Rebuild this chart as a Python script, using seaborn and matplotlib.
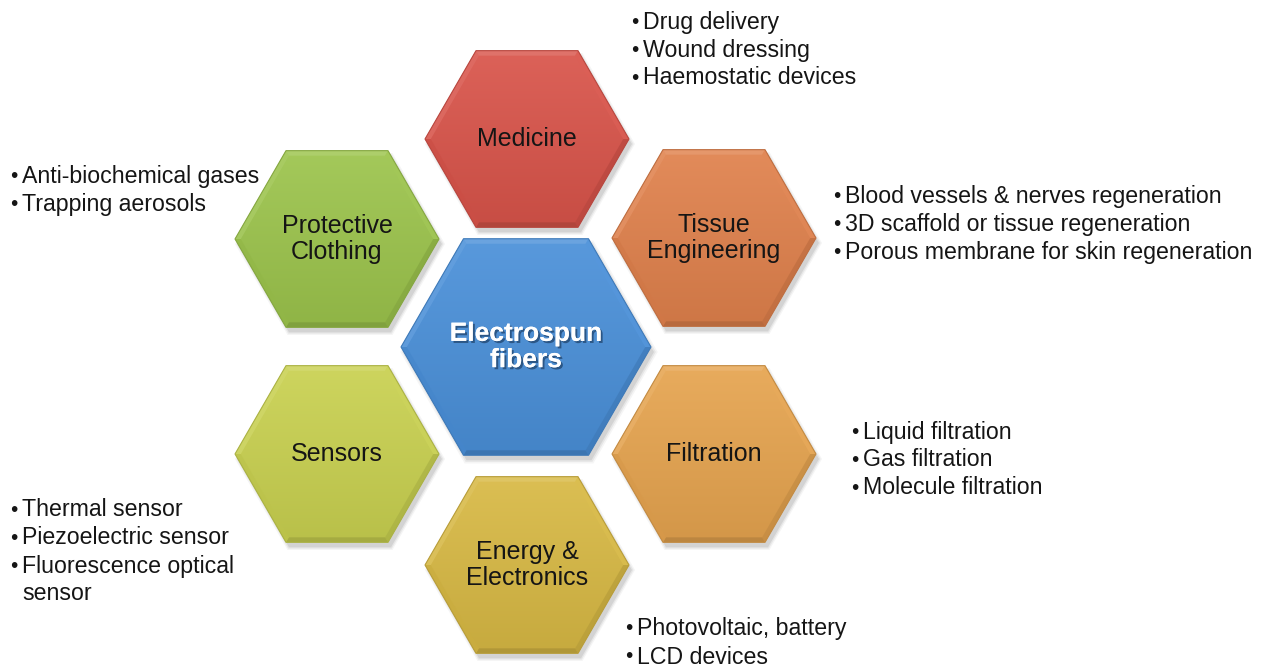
import numpy as np
import matplotlib
matplotlib.use("Agg")
import matplotlib.pyplot as plt
import matplotlib.patheffects as pe
from matplotlib.patches import Polygon
import seaborn as sns

# ---------- data ----------
hub_label = "Electrospun\nfibers"
areas = ["Medicine", "Tissue\nEngineering", "Filtration",
         "Energy &\nElectronics", "Sensors", "Protective\nClothing"]
area_colors = ["#d9544a", "#e0814c", "#e6a44f", "#d8b944", "#c9d150", "#9cc44c"]
hub_color = "#4a90d9"

medicine_items = ["Drug delivery", "Wound dressing", "Haemostatic devices"]
tissue_items = ["Blood vessels & nerves regeneration",
                "3D scaffold or tissue regeneration",
                "Porous membrane for skin regeneration"]
filtration_items = ["Liquid filtration", "Gas filtration", "Molecule filtration"]
energy_items = ["Photovoltaic, battery", "LCD devices"]
sensor_items = ["Thermal sensor", "Piezoelectric sensor",
                "Fluorescence optical\nsensor"]
clothing_items = ["Anti-biochemical gases", "Trapping aerosols"]

# ---------- layout (pixels) ----------
W, H = 1272, 669
hub_xy, hub_r = (526, 347), 125
area_xy = [(527, 139), (714, 238), (714, 454), (527, 565), (337, 454), (337, 239)]
area_r = 102
# bullet blocks: (items, bullet x, first line y)
blocks = [(medicine_items, 631, 22), (tissue_items, 833, 196),
          (filtration_items, 851, 432), (energy_items, 625, 629),
          (sensor_items, 10, 510), (clothing_items, 10, 177)]
line_h = 28

sns.set_theme(style="white")
plt.rcParams["font.family"] = ["Liberation Sans", "DejaVu Sans"]

fig = plt.figure(figsize=(W / 100, H / 100), dpi=100)
ax = fig.add_axes([0, 0, 1, 1])
ax.set_xlim(0, W)
ax.set_ylim(H, 0)
ax.axis("off")


def shade(color, f):
    c = np.array(matplotlib.colors.to_rgb(color))
    if f >= 0:
        return tuple(c + (1 - c) * f)
    return tuple(c * (1 + f))


def hexagon(cx, cy, r, color, z):
    ang = np.deg2rad(np.arange(0, 360, 60))
    outer = np.c_[cx + r * np.cos(ang), cy + r * np.sin(ang)]
    # soft shadow
    for k, a in [(1.03, 0.04), (1.015, 0.06), (1.0, 0.08)]:
        sh = np.c_[cx + 3 + r * k * np.cos(ang), cy + 5 + r * k * np.sin(ang)]
        ax.add_patch(Polygon(sh, closed=True, fc="black", ec="none", alpha=a, zorder=z))
    # gradient body
    grad = np.linspace(0, 1, 200)[:, None]
    top, bot = np.array(shade(color, 0.08)), np.array(shade(color, -0.08))
    img = top[None, None, :] * (1 - grad[..., None]) + bot[None, None, :] * grad[..., None]
    h = r * np.sqrt(3) / 2
    im = ax.imshow(img, extent=(cx - r, cx + r, cy + h, cy - h), origin="upper",
                   aspect="auto", zorder=z + 1)
    clip = Polygon(outer, closed=True, transform=ax.transData)
    im.set_clip_path(clip)
    # bevel facets
    inset = 5
    k = 1 - inset / h
    inner = np.c_[cx + r * k * np.cos(ang), cy + r * k * np.sin(ang)]
    for i in range(6):
        j = (i + 1) % 6
        nang = np.deg2rad(30 + 60 * i)
        ny, nx = np.sin(nang), np.cos(nang)
        f = -0.22 * ny - 0.05 * nx
        quad = [outer[i], outer[j], inner[j], inner[i]]
        ax.add_patch(Polygon(quad, closed=True, fc=shade(color, f), ec="none",
                             alpha=0.7, zorder=z + 2))
    ax.add_patch(Polygon(outer, closed=True, fc="none", ec=shade(color, -0.15),
                         lw=0.8, zorder=z + 3))


for (cx, cy), col in zip(area_xy, area_colors):
    hexagon(cx, cy, area_r, col, 2)
hexagon(*hub_xy, hub_r, hub_color, 2)

for (cx, cy), lab in zip(area_xy, areas):
    ax.text(cx, cy, lab, ha="center", va="center", fontsize=18,
            color="#151515", linespacing=1.12, zorder=10)

ax.text(hub_xy[0], hub_xy[1], hub_label, ha="center", va="center", fontsize=19,
        fontweight="bold", color="white", linespacing=1.12, zorder=10,
        path_effects=[pe.withSimplePatchShadow(offset=(1.5, -1.5), shadow_rgbFace="#1d3f66",
                                               alpha=0.7), pe.Normal()])

for items, bx, by in blocks:
    row = 0
    for item in items:
        parts = item.split("\n")
        for n, part in enumerate(parts):
            y = by + row * line_h
            if n == 0:
                ax.text(bx, y, "\u2022", ha="left", va="center", fontsize=15,
                        color="#151515", zorder=10)
            ax.text(bx + 12, y, part, ha="left", va="center", fontsize=16.7,
                    color="#151515", zorder=10)
            row += 1

fig.savefig("out.png", dpi=100, facecolor="white")
